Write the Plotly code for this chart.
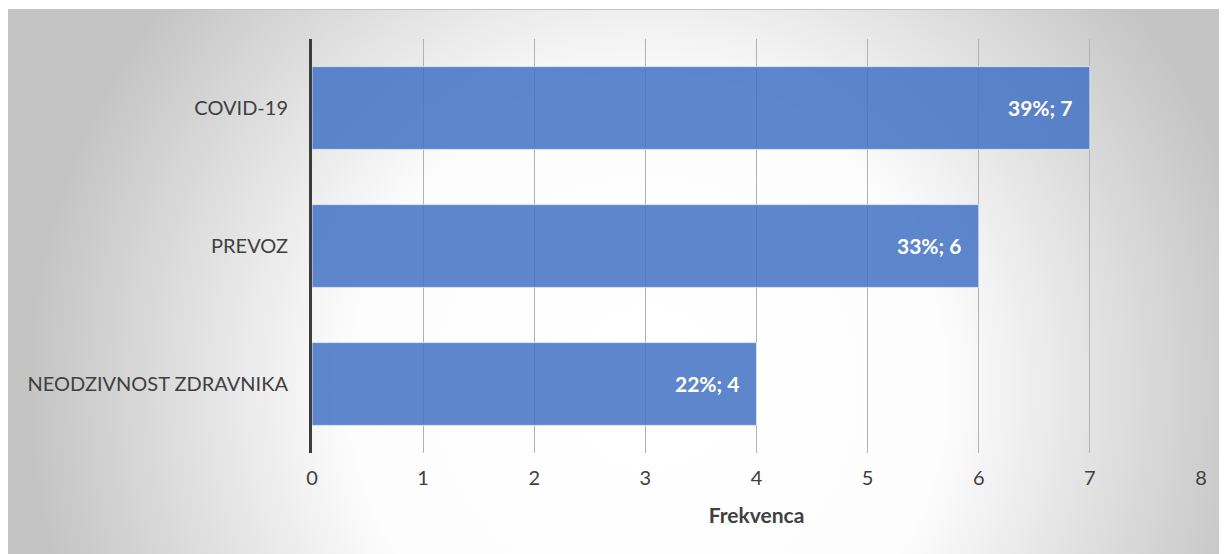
import plotly.graph_objects as go
import base64

categories = ["NEODZIVNOST ZDRAVNIKA", "PREVOZ", "COVID-19"]
frequencies = [4, 6, 7]
percentages = [22, 33, 39]
x_ticks = [0, 1, 2, 3, 4, 5, 6, 7, 8]

labels = [f"{p}%; {v}" for p, v in zip(percentages, frequencies)]

# figure is placed at page offset (8, 8) by the page's body margin
W, H = 1219, 546
ml, mr, mt, mb = 304, 26, 31, 101
pw, ph = W - ml - mr, H - mt - mb

IW, IH = W, H - 1
svg = (
    f'<svg xmlns="http://www.w3.org/2000/svg" width="{IW}" height="{IH}" preserveAspectRatio="none">'
    '<defs><radialGradient id="g" gradientUnits="userSpaceOnUse" cx="640" cy="380" r="620">'
    '<stop offset="0" stop-color="#ffffff"/>'
    '<stop offset="0.48" stop-color="#fdfdfd"/>'
    '<stop offset="1" stop-color="#c4c4c4"/>'
    '</radialGradient></defs>'
    f'<rect width="{IW}" height="{IH}" fill="url(#g)"/>'
    f'<line x1="0" y1="0.5" x2="{IW}" y2="0.5" stroke="#c4c4c4" stroke-width="1"/>'
    '</svg>'
)
src = "data:image/svg+xml;base64," + base64.b64encode(svg.encode()).decode()

fig = go.Figure()
fig.add_trace(go.Bar(
    y=categories, x=frequencies, orientation="h",
    marker=dict(color="rgba(68,114,196,0.86)", line=dict(color="rgba(225,233,247,0.9)", width=1)),
    width=0.6, hoverinfo="x+y",
))

for c, v, t in zip(categories, frequencies, labels):
    fig.add_annotation(
        x=v, y=c, xref="x", yref="y", text=f"<b>{t}</b>", showarrow=False,
        xanchor="right", xshift=-15, yshift=1,
        font=dict(family="Lato", size=21, color="white"),
    )

fig.add_layout_image(dict(
    source=src, xref="paper", yref="paper",
    x=-ml / pw, y=1 + (mt - 1) / ph,
    sizex=W / pw, sizey=IH / ph,
    sizing="stretch", xanchor="left", yanchor="top", layer="below",
))

fig.update_layout(
    width=W, height=H,
    margin=dict(l=ml, r=mr, t=mt, b=mb),
    paper_bgcolor="white", plot_bgcolor="rgba(0,0,0,0)",
    showlegend=False, bargap=0.4,
    font=dict(family="Lato", color="#404040", size=20),
    xaxis=dict(
        range=[0, 8], tickvals=x_ticks, showgrid=True, gridcolor="#b2b2b2", gridwidth=1,
        zeroline=False, showline=False, ticks="outside", ticklen=7, tickcolor="rgba(0,0,0,0)",
        tickfont=dict(size=20, color="#404040"),
        title=dict(text="<b>Frekvenca</b>", font=dict(size=21, color="#404040"), standoff=20),
    ),
    yaxis=dict(
        showline=True, linecolor="#3c3c3c", linewidth=3, showgrid=False,
        ticks="outside", ticklen=17, tickcolor="rgba(0,0,0,0)",
        tickfont=dict(size=20, color="#404040"),
    ),
)

fig.write_html("out.html")
